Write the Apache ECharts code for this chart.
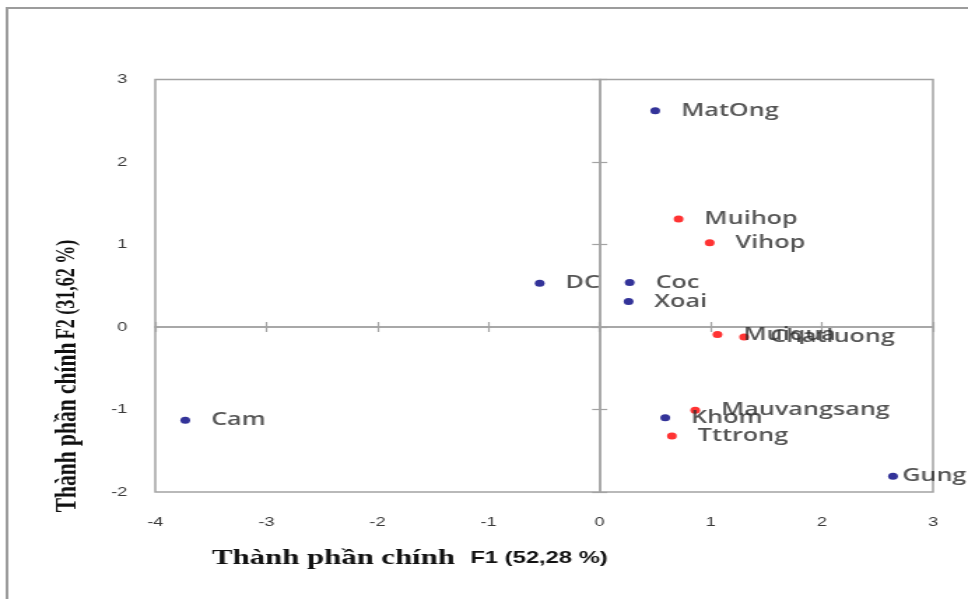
<!DOCTYPE html>
<html>
<head>
<meta charset="utf-8">
<script src="https://cdn.jsdelivr.net/npm/echarts@6/dist/echarts.min.js"></script>
<style>
  html, body { margin: 0; padding: 0; background: #fff; overflow: hidden; }
  #wrap { width: 968px; height: 599px; overflow: hidden; position: relative; }
  /* the figure is laid out narrow and widened horizontally */
  #chart { width: 692px; height: 599px; transform: scaleX(1.3988); transform-origin: 0 0; }
</style>
</head>
<body>
<div id="wrap"><div id="chart"></div></div>
<script>
// Products (blue) — scores on F1 / F2
const productNames = ['MatOng', 'DC', 'Coc', 'Xoai', 'Khom', 'Gung', 'Cam'];
const productF1 = [0.50, -0.54, 0.27, 0.26, 0.59, 2.64, -3.73];
const productF2 = [2.62, 0.53, 0.54, 0.31, -1.10, -1.81, -1.13];

// Sensory attributes (red) — loadings on F1 / F2
const attributeNames = ['Muihop', 'Vihop', 'Muiqua', 'Chatluong', 'Mauvangsang', 'Tttrong'];
const attributeF1 = [0.71, 0.99, 1.06, 1.30, 0.86, 0.65];
const attributeF2 = [1.31, 1.02, -0.09, -0.12, -1.01, -1.32];

// Axis ranges
const f1Range = { min: -4, max: 3, step: 1 };
const f2Range = { min: -2, max: 3, step: 1 };

const xTitleMain = 'Thành phần chính';
const xTitleSub = 'F1 (52,28 %)';
const yTitleMain = 'Thành phần chính';
const yTitleSub = 'F2 (31,62 %)';

// labels that sit tight against their point
const tightLabels = { 'Gung': 3 };

function buildPoints(names, xs, ys) {
  return names.map((n, i) => {
    const item = { name: n, value: [xs[i], ys[i]] };
    if (tightLabels[n] != null) item.label = { distance: tightLabels[n] };
    return item;
  });
}

const lineColor = '#a3a3a3';
const tickFont = { fontFamily: 'Liberation Sans', fontSize: 13, color: '#3a3a3a' };
const pointLabel = {
  show: true, position: 'right', distance: 15,
  formatter: '{b}', fontFamily: 'Open Sans', fontWeight: 600, fontSize: 18, color: '#2b2b2b'
};

function valueAxis(range, extra) {
  return Object.assign({
    type: 'value', min: range.min, max: range.max, interval: range.step,
    splitLine: { show: false }
  }, extra);
}

function zeroLineAxis(range, position, tickLen) {
  return valueAxis(range, {
    position: position,
    axisLine: { show: true, onZero: true, onZeroAxisIndex: 1, lineStyle: { color: lineColor, width: 1.5 } },
    axisTick: { show: true, inside: false, length: tickLen, lineStyle: { color: lineColor, width: 1.2 } },
    axisLabel: { show: false }
  });
}

const chart = echarts.init(document.getElementById('chart'), null, { renderer: 'canvas' });

chart.setOption({
  animation: false,
  backgroundColor: '#ffffff',
  grid: {
    left: 111, right: 25, top: 79.5, bottom: 107,
    show: true, borderColor: lineColor, borderWidth: 1.5, backgroundColor: 'transparent'
  },
  xAxis: [
    // tick labels along the bottom of the frame
    valueAxis(f1Range, {
      position: 'bottom',
      axisLine: { show: false, onZero: false },
      axisTick: { show: false },
      axisLabel: Object.assign({ margin: 24 }, tickFont)
    }),
    // F2 = 0 line, ticks crossing it
    zeroLineAxis(f1Range, 'bottom', 5),
    zeroLineAxis(f1Range, 'top', 5)
  ],
  yAxis: [
    valueAxis(f2Range, {
      position: 'left',
      axisLine: { show: false, onZero: false },
      axisTick: { show: false },
      axisLabel: Object.assign({ margin: 20 }, tickFont)
    }),
    // F1 = 0 line, ticks crossing it
    zeroLineAxis(f2Range, 'left', 5.4),
    zeroLineAxis(f2Range, 'right', 5.4)
  ],
  series: [
    {
      name: 'Thuộc tính',
      type: 'scatter',
      xAxisIndex: 1, yAxisIndex: 1,
      symbol: 'circle', symbolSize: 7,
      itemStyle: { color: '#ff0000' },
      label: pointLabel,
      data: buildPoints(attributeNames, attributeF1, attributeF2)
    },
    {
      name: 'Sản phẩm',
      type: 'scatter',
      xAxisIndex: 1, yAxisIndex: 1,
      symbol: 'circle', symbolSize: 7,
      itemStyle: { color: '#000080' },
      label: pointLabel,
      data: buildPoints(productNames, productF1, productF2)
    }
  ],
  graphic: [
    // page frame
    {
      type: 'rect', silent: true,
      shape: { x: 5, y: 8, width: 800, height: 700 },
      style: { fill: 'none', stroke: '#9c9c9c', lineWidth: 2 }
    },
    // F1 axis title
    {
      type: 'text', x: 293, y: 558,
      style: {
        text: '{a|' + xTitleMain + '}{b|' + xTitleSub + '}',
        align: 'center', verticalAlign: 'middle',
        rich: {
          a: { fontFamily: 'Liberation Serif', fontWeight: 'bold', fontSize: 22, fill: '#111' },
          b: { fontFamily: 'Liberation Sans', fontWeight: 'bold', fontSize: 17, fill: '#111', padding: [0, 0, 0, 11] }
        }
      }
    },
    // F2 axis title
    {
      type: 'text', x: 48.6, y: 376, rotation: Math.PI / 2,
      style: {
        text: '{a|' + yTitleMain + '} {b|' + yTitleSub + '}',
        align: 'center', verticalAlign: 'middle',
        rich: {
          a: { fontFamily: 'Liberation Serif', fontWeight: 'bold', fontSize: 21.5, fill: '#111' },
          b: { fontFamily: 'Liberation Serif', fontWeight: 'bold', fontSize: 18, fill: '#111' }
        }
      }
    }
  ]
});
</script>
</body>
</html>
